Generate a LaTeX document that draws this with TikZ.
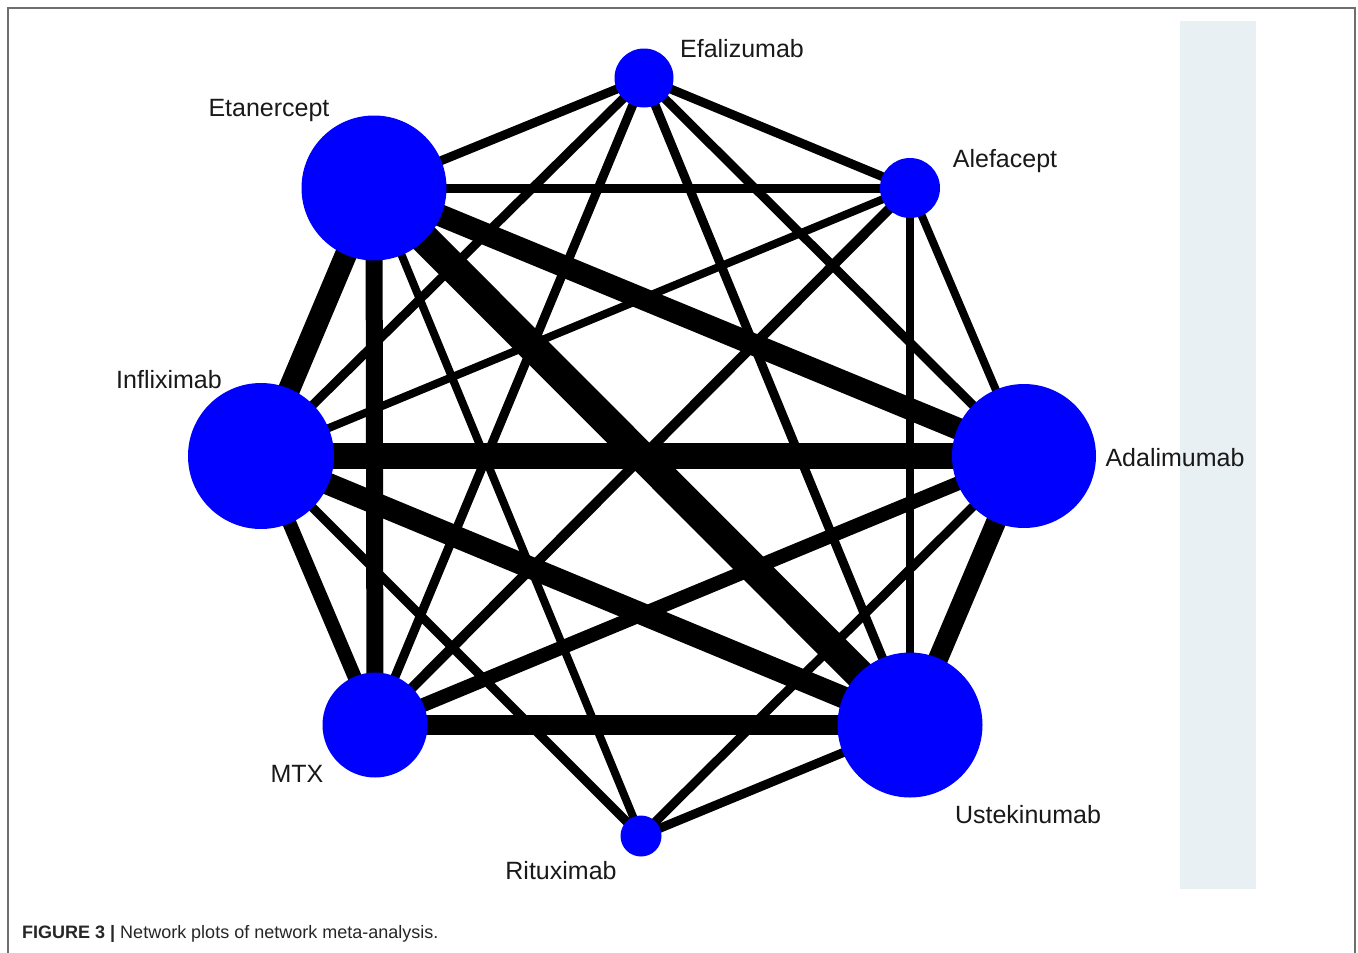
\documentclass[tikz,border=0pt]{standalone}
\usepackage{fontspec}
\setmainfont{Liberation Sans}
\usetikzlibrary{backgrounds}
\definecolor{nodeblue}{RGB}{0,0,255}
\definecolor{panelc}{RGB}{232,240,243}
\definecolor{framec}{RGB}{110,110,110}
\begin{document}
\begin{tikzpicture}[x=1pt,y=-1pt,
  drug/.style={circle,fill=nodeblue,draw=none,inner sep=0pt},
  lbl/.style={font=\fontsize{25}{30}\selectfont, text=black!90, inner sep=0pt},
  link/.style={draw=black,line cap=butt}]
\useasboundingbox (0,0) rectangle (1358,953);
% drug nodes
\node[drug,minimum size=59pt]  (E) at (644,78)  {};
\node[drug,minimum size=60pt]  (A) at (910,188) {};
\node[drug,minimum size=145pt] (T) at (374,188) {};
\node[drug,minimum size=146pt] (I) at (261,456) {};
\node[drug,minimum size=144pt] (D) at (1024,456) {};
\node[drug,minimum size=105pt] (M) at (375,725) {};
\node[drug,minimum size=145pt] (U) at (910,725) {};
\node[drug,minimum size=41pt]  (R) at (641,836) {};
% labels
\node[lbl] (Elab) at (742,49)  {Efalizumab};
\node[lbl] (Alab) at (1005,161) {Alefacept};
\node[lbl] (Tlab) at (269,110) {Etanercept};
\node[lbl] (Ilab) at (169,380) {Infliximab};
\node[lbl] (Dlab) at (1175,458) {Adalimumab};
\node[lbl] (Ulab) at (1028,815) {Ustekinumab};
\node[lbl] (Rlab) at (561,871) {Rituximab};
\node[lbl] (Mlab) at (297,774) {MTX};
% caption
\node[anchor=west, font=\fontsize{18}{22}\selectfont, text=black!85, inner sep=0pt] (cap) at (22,934)
  {\textbf{FIGURE 3 |} Network plots of network meta-analysis.};
\begin{scope}[on background layer]
  \fill[white] (0,0) rectangle (1358,953);
  \fill[panelc] (1180,21) rectangle (1256,889);
  \draw[framec,line width=2pt] (8,953) -- (8,8) -- (1355,8) -- (1355,953);
  % thin links
  \draw[link,line width=9pt] (E.center) -- (T.center);
  \draw[link,line width=9pt] (E.center) -- (I.center);
  \draw[link,line width=9pt] (E.center) -- (M.center);
  \draw[link,line width=9pt] (E.center) -- (U.center);
  \draw[link,line width=9pt] (E.center) -- (D.center);
  \draw[link,line width=9pt] (E.center) -- (A.center);
  \draw[link,line width=9pt] (A.center) -- (T.center);
  \draw[link,line width=8pt] (A.center) -- (I.center);
  \draw[link,line width=10pt] (A.center) -- (M.center);
  \draw[link,line width=8pt] (A.center) -- (U.center);
  \draw[link,line width=8pt] (A.center) -- (D.center);
  \draw[link,line width=8pt] (T.center) -- (R.center);
  \draw[link,line width=9pt] (I.center) -- (R.center);
  \draw[link,line width=9pt] (D.center) -- (R.center);
  \draw[link,line width=9pt] (U.center) -- (R.center);
  % thick links
  \draw[link,line width=22pt] (T.center) -- (D.center);
  \draw[link,line width=30pt] (T.center) -- (U.center);
  \draw[link,line width=17pt] (T.center) -- (M.center);
  \draw[link,line width=22pt] (T.center) -- (I.center);
  \draw[link,line width=26pt] (I.center) -- (D.center);
  \draw[link,line width=22pt] (I.center) -- (U.center);
  \draw[link,line width=14pt] (I.center) -- (M.center);
  \draw[link,line width=14pt] (M.center) -- (D.center);
  \draw[link,line width=20pt] (M.center) -- (U.center);
  \draw[link,line width=20pt] (D.center) -- (U.center);
\end{scope}
\end{tikzpicture}
\end{document}
